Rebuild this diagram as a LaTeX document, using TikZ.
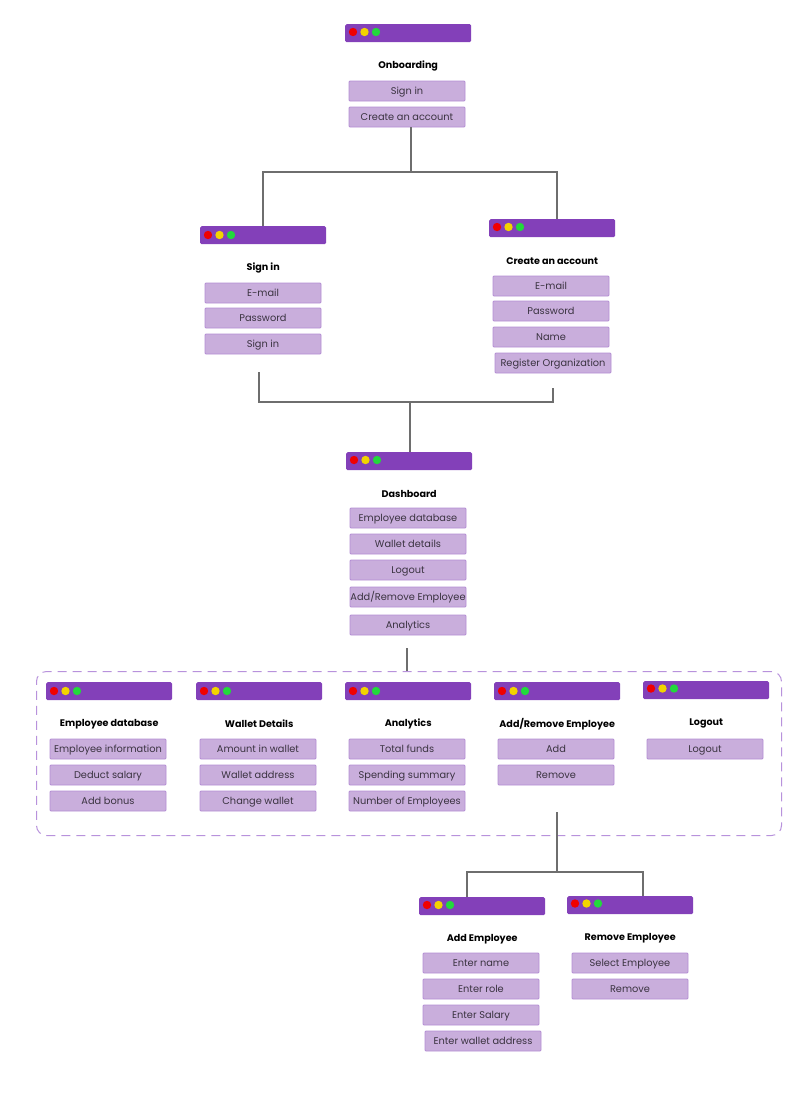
\documentclass[tikz,border=0pt]{standalone}
\usepackage{fontspec}
\setmainfont{Poppins}
\usetikzlibrary{calc}
\definecolor{barcol}{HTML}{8340B9}
\definecolor{btnfill}{HTML}{C9AEDC}
\definecolor{btnline}{HTML}{B48ED4}
\definecolor{dred}{HTML}{F00000}
\definecolor{dyel}{HTML}{F2D300}
\definecolor{dgrn}{HTML}{22D93C}
\definecolor{wire}{HTML}{6E6E6E}
\definecolor{dashcol}{HTML}{B892DC}
\definecolor{btntext}{HTML}{3A3340}
\tikzset{
  winbar/.style={fill=barcol, draw=none, rounded corners=1.5pt, minimum width=126pt, minimum height=18pt, inner sep=0pt, anchor=north west},
  wintitle/.style={font=\fontsize{9.6}{11}\selectfont\bfseries, text=black, inner sep=0pt},
  btn/.style={fill=btnfill, draw=btnline, line width=0.8pt, rounded corners=1pt, minimum width=116pt, minimum height=20pt, inner sep=0pt, text height=8.6pt, text depth=1pt, font=\fontsize{9.8}{11}\selectfont, text=btntext},
  wire/.style={draw=wire, line width=1.4pt},
  dashbox/.style={draw=dashcol, line width=1pt, dash pattern=on 9pt off 6pt, rounded corners=10pt}
}
\newcommand\appwin[5]{% name, x, y, title, dot y offset
  \node[winbar] (#1) at (#2,#3) {};
  \fill[dred] ($(#1.north west)+(8,#5)$) circle[radius=4.2pt];
  \fill[dyel] ($(#1.north west)+(19.5,#5)$) circle[radius=4.2pt];
  \fill[dgrn] ($(#1.north west)+(31,#5)$) circle[radius=4.2pt];
  \node[wintitle] (#1-t) at ($(#1.north)+(0,42)$) {#4};
}
\begin{document}
\begin{tikzpicture}[x=1pt,y=-1pt]
\useasboundingbox[fill=white] (0,0) rectangle (808,1101);

% Onboarding
\appwin{onb}{345}{24}{Onboarding}{8}
\node[btn] (onb-1) at (407,91) {Sign in};
\node[btn] (onb-2) at (407,117) {Create an account};

% Sign in
\appwin{sin}{200}{226}{Sign in}{9}
\node[btn] (sin-1) at (263,293) {E-mail};
\node[btn] (sin-2) at (263,318) {Password};
\node[btn] (sin-3) at (263,344) {Sign in};

% Create an account
\appwin{cra}{489}{219}{Create an account}{8}
\node[btn] (cra-1) at (551,286) {E-mail};
\node[btn] (cra-2) at (551,311) {Password};
\node[btn] (cra-3) at (551,337) {Name};
\node[btn] (cra-4) at (553,363) {Register Organization};

% Dashboard
\appwin{dsh}{346}{452}{Dashboard}{8}
\node[btn] (dsh-1) at (408,518) {Employee database};
\node[btn] (dsh-2) at (408,544) {Wallet details};
\node[btn] (dsh-3) at (408,570) {Logout};
\node[btn] (dsh-4) at (408,597) {Add/Remove Employee};
\node[btn] (dsh-5) at (408,625) {Analytics};

% Dashed group
\node[dashbox, minimum width=745pt, minimum height=164pt, anchor=north west, inner sep=0pt] (grp) at (36,671) {};

\appwin{edb}{46}{682}{Employee database}{9}
\node[btn] (edb-1) at (108,749) {Employee information};
\node[btn] (edb-2) at (108,775) {Deduct salary};
\node[btn] (edb-3) at (108,801) {Add bonus};

\appwin{wal}{196}{682}{Wallet Details}{9}
\node[btn] (wal-1) at (258,749) {Amount in wallet};
\node[btn] (wal-2) at (258,775) {Wallet address};
\node[btn] (wal-3) at (258,801) {Change wallet};

\appwin{ana}{345}{682}{Analytics}{9}
\node[btn] (ana-1) at (407,749) {Total funds};
\node[btn] (ana-2) at (407,775) {Spending summary};
\node[btn] (ana-3) at (407,801) {Number of Employees};

\appwin{are}{494}{682}{Add/Remove Employee}{9}
\node[btn] (are-1) at (556,749) {Add};
\node[btn] (are-2) at (556,775) {Remove};

\appwin{lgo}{643}{681}{Logout}{7.5}
\node[btn] (lgo-1) at (705,749) {Logout};

% Add / Remove employee
\appwin{add}{419}{897}{Add Employee}{8}
\node[btn] (add-1) at (481,963) {Enter name};
\node[btn] (add-2) at (481,989) {Enter role};
\node[btn] (add-3) at (481,1015) {Enter Salary};
\node[btn] (add-4) at (483,1041) {Enter wallet address};

\appwin{rem}{567}{896}{Remove Employee}{7.5}
\node[btn] (rem-1) at (630,963) {Select Employee};
\node[btn] (rem-2) at (630,989) {Remove};

% Connectors
\coordinate (j1) at (411,172);
\coordinate (s2) at (259,372);
\coordinate (c2) at (553,388);
\coordinate (j2) at (410,402);
\coordinate (d2) at (407,648);
\coordinate (a2) at (557,812);
\coordinate (j3) at (557,872);

\draw[wire] (onb-2.south -| j1) -- (j1);
\draw[wire] (sin.north -| sin-1) |- (j1) -| (cra.north -| 557,0);
\draw[wire] (s2) |- (j2) -| (c2);
\draw[wire] (j2) -- (dsh.north -| j2);
\draw[wire] (d2) -- (grp.north -| d2);
\draw[wire] (a2) -- (j3);
\draw[wire] (add.north -| 467,0) |- (j3) -| (rem.north -| 643,0);
\end{tikzpicture}
\end{document}
